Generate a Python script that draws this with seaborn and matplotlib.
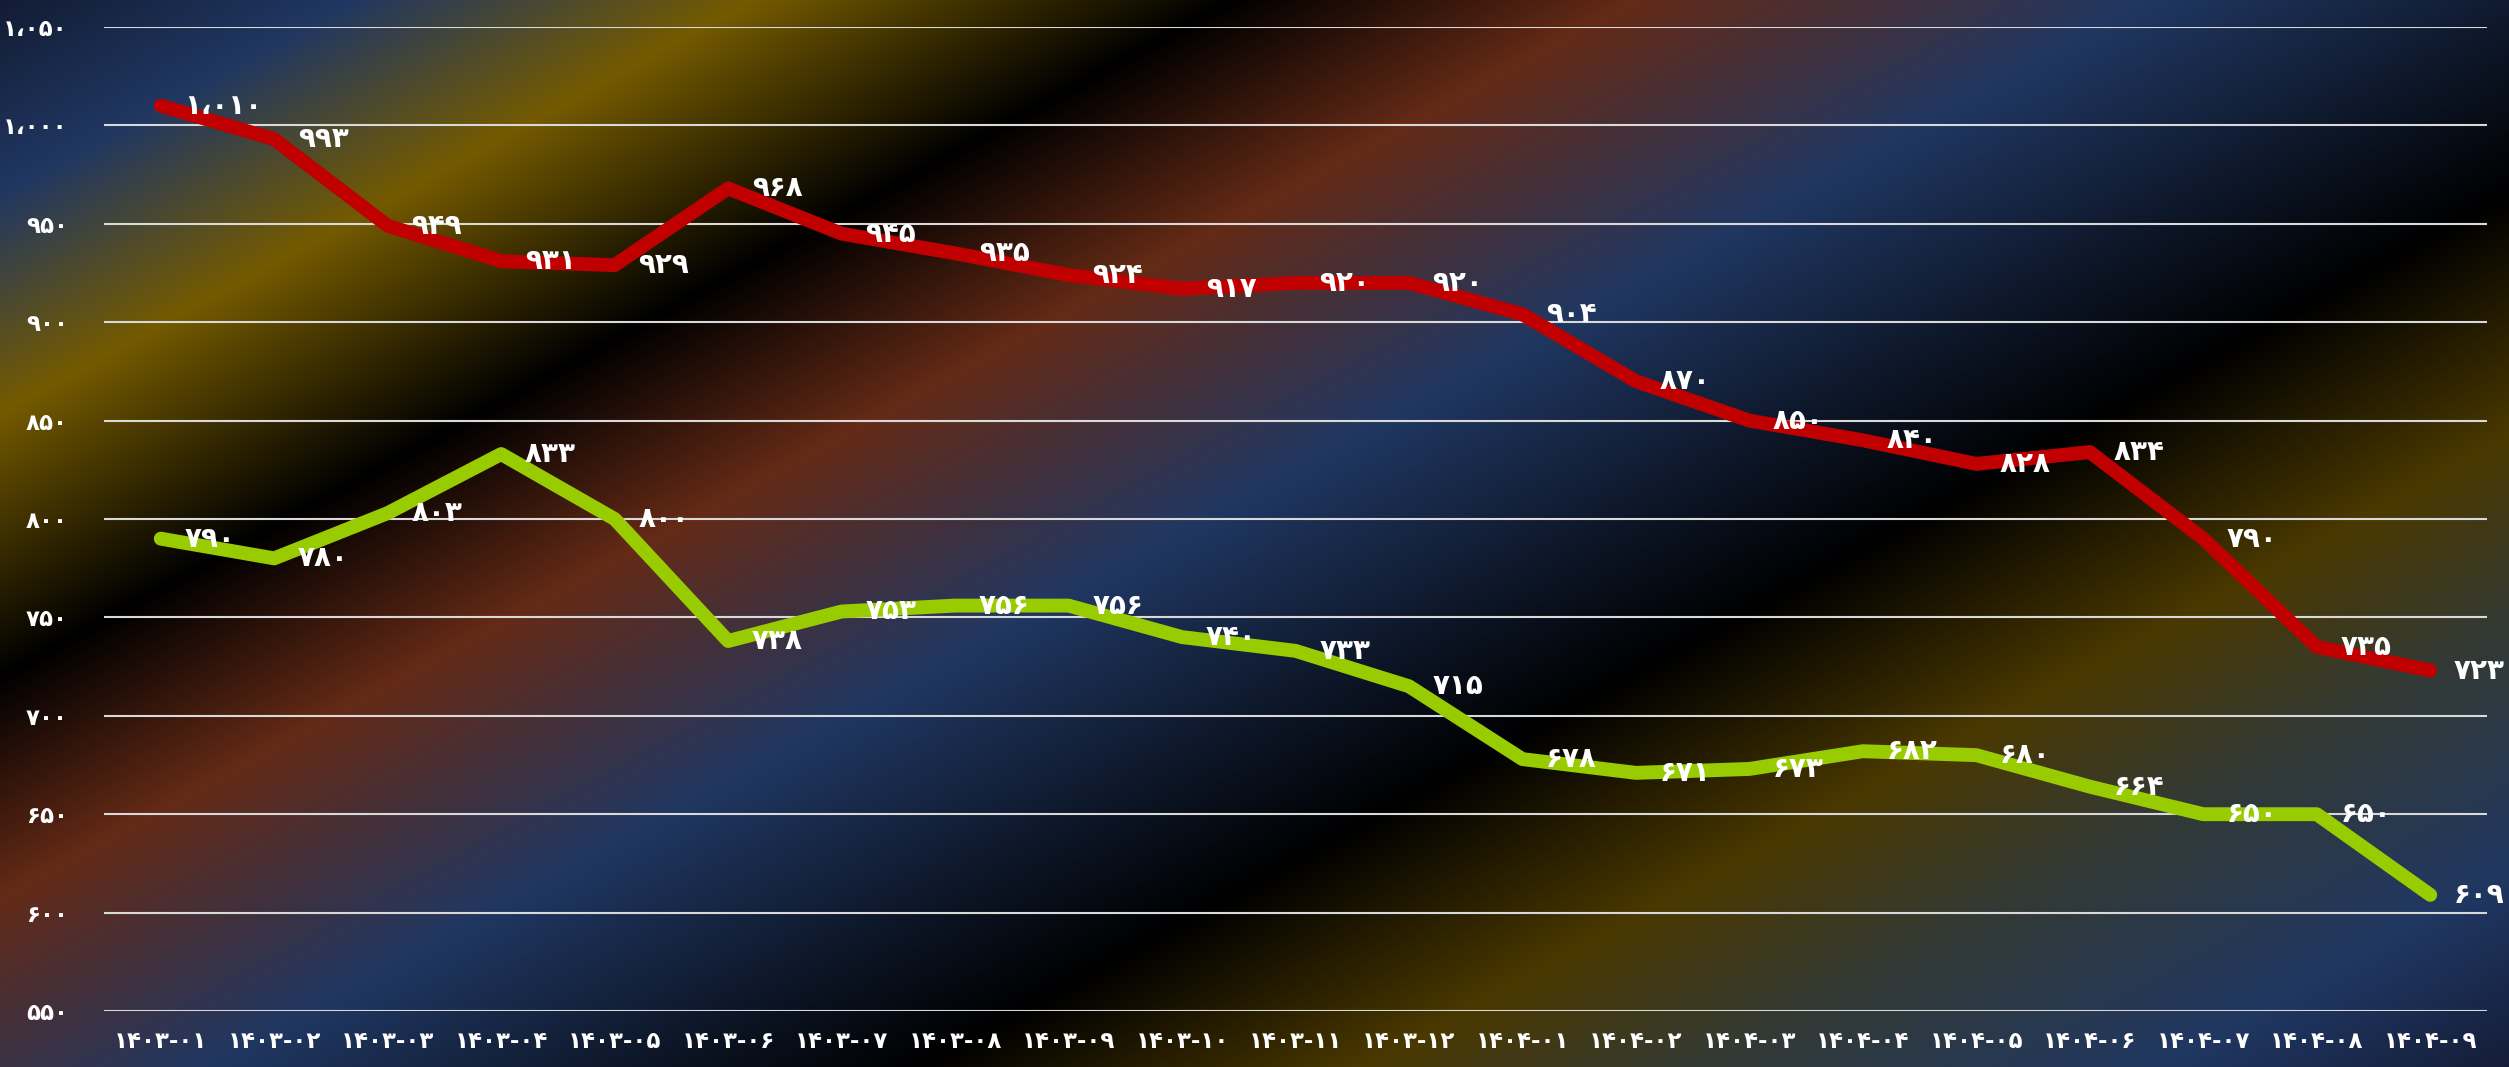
import numpy as np
import pandas as pd
import seaborn as sns
import matplotlib.pyplot as plt
from matplotlib.colors import to_rgb

sns.set_theme(style="white")
plt.rcParams['font.family'] = ['DejaVu Sans']

# monthly values (Persian calendar months)
months = ["1403-01", "1403-02", "1403-03", "1403-04", "1403-05", "1403-06",
          "1403-07", "1403-08", "1403-09", "1403-10", "1403-11", "1403-12",
          "1404-01", "1404-02", "1404-03", "1404-04", "1404-05", "1404-06",
          "1404-07", "1404-08", "1404-09"]
red_vals = [1010, 993, 949, 931, 929, 968, 945, 935, 924, 917, 920, 920,
            904, 870, 850, 840, 828, 834, 790, 735, 723]
green_vals = [790, 780, 803, 833, 800, 738, 753, 756, 756, 740, 733, 715,
              678, 671, 673, 682, 680, 664, 650, 650, 609]
yticks = list(range(550, 1051, 50))

FA = str.maketrans("0123456789", "۰۱۲۳۴۵۶۷۸۹")


def fa(n):
    return f"{n:,}".replace(",", "،").translate(FA)


n = len(months)
df = pd.DataFrame({
    "idx": list(range(n)) * 2,
    "value": red_vals + green_vals,
    "series": ["red"] * n + ["green"] * n,
})

W, H = 2509, 1067
fig = plt.figure(figsize=(W / 100, H / 100), dpi=100)

# diagonal banded gradient background
bg = fig.add_axes([0, 0, 1, 1], zorder=-1)
yy, xx = np.mgrid[0:H, 0:W]
t = xx + 1.82 * yy
stops_t = [0, 350, 750, 1230, 1630, 2150, 2860, 3300, 3650, 4100, 4450]
stops_c = ["#121c33", "#203762", "#745a00", "#000000", "#642a16", "#203762",
           "#000000", "#4a3800", "#333a35", "#203762", "#141d38"]
rgb = np.stack([np.interp(t, stops_t, [to_rgb(c)[k] for c in stops_c]) for k in range(3)], axis=-1)
bg.imshow(rgb, aspect="auto", interpolation="bilinear")
bg.axis("off")

ax = fig.add_axes([104 / W, 56 / H, (2487 - 104) / W, (1040 - 56) / H])
ax.patch.set_alpha(0)

sns.lineplot(data=df, x="idx", y="value", hue="series", sort=False,
             palette={"red": "#c00000", "green": "#99cc00"},
             linewidth=10, legend=False, ax=ax)
for line in ax.lines:
    line.set_solid_capstyle("round")
    line.set_solid_joinstyle("round")

for vals in (red_vals, green_vals):
    for i, v in enumerate(vals):
        ax.annotate(fa(v), (i, v), xytext=(17, 0), textcoords="offset points",
                    ha="left", va="center", color="white", fontsize=20,
                    fontweight="bold", annotation_clip=False)

ax.set_xlim(-0.5, n - 0.5)
ax.set_ylim(550, 1050)
ax.set_xticks(range(n))
ax.set_xticklabels([m.translate(FA) for m in months])
ax.set_yticks(yticks)
ax.set_yticklabels([fa(v) for v in yticks])
ax.tick_params(axis="both", length=0, colors="white", labelsize=16.5)
ax.tick_params(axis="y", pad=26)
ax.tick_params(axis="x", pad=14)
for lab in ax.get_xticklabels() + ax.get_yticklabels():
    lab.set_fontweight("bold")
ax.yaxis.grid(True, color="#d9d9d9", linewidth=1.5)
ax.xaxis.grid(False)
ax.set_axisbelow(True)
for s in ax.spines.values():
    s.set_visible(False)
ax.set_xlabel("")
ax.set_ylabel("")

fig.savefig("out.png", dpi=100)
